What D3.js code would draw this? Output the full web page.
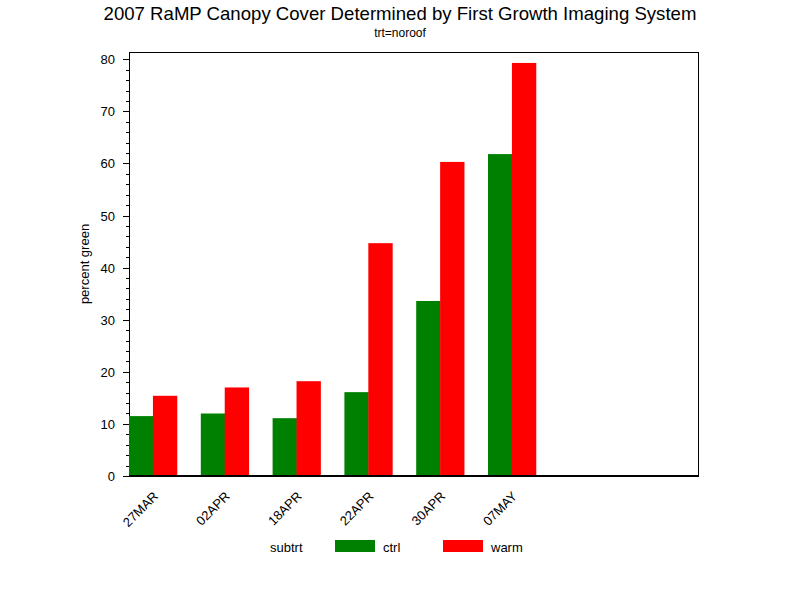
<!DOCTYPE html>
<html><head><meta charset="utf-8">
<script src="https://cdn.jsdelivr.net/npm/d3@7"></script>
<style>body{margin:0;background:#fff}svg text{font-family:"Liberation Sans",Arial,sans-serif;fill:#000}</style>
</head><body>
<script>
const categories = ["27MAR","02APR","18APR","22APR","30APR","07MAY"];
const ctrl = [11.5, 12.0, 11.1, 16.1, 33.6, 61.8];
const warm = [15.4, 17.0, 18.2, 44.7, 60.3, 79.3];
const seriesNames = ["ctrl","warm"];
const seriesColors = ["#008000","#ff0000"];
const yTicks = [0,10,20,30,40,50,60,70,80];

(function(){
const W=800,H=600;
const svg=d3.select("body").append("svg").attr("width",W).attr("height",H);
const pL=129,pR=698,pT=52,pB=476;

const y=d3.scaleLinear().domain([0,80]).range([pB,59.3]);
const step=71.8;
const x0=d3.scaleBand().domain(categories).range([pL,pL+5*step+step*2/3]).paddingInner(1/3).paddingOuter(0);
const x1=d3.scaleBand().domain(seriesNames).range([0,x0.bandwidth()]);

svg.append("rect").attr("x",pL+0.5).attr("y",pT+0.5).attr("width",pR-pL).attr("height",pB-pT)
  .attr("fill","none").attr("stroke","#000").attr("stroke-width",1);

const data=categories.map((c,i)=>({c,vals:[{s:"ctrl",v:ctrl[i]},{s:"warm",v:warm[i]}]}));
const g=svg.append("g");
data.forEach(d=>{
  d.vals.forEach((e,j)=>{
    g.append("rect").attr("x",x0(d.c)+x1(e.s)).attr("width",x1.bandwidth()+0.4)
     .attr("y",y(e.v)).attr("height",pB-y(e.v)).attr("fill",seriesColors[j]);
  });
});

const minor=d3.range(0,81,2);
const ya=svg.append("g");
minor.forEach(t=>{
  const major=t%10===0;
  ya.append("line").attr("x1",pL-(major?6:3)).attr("x2",pL).attr("y1",Math.round(y(t))+0.5).attr("y2",Math.round(y(t))+0.5).attr("stroke","#000");
});
yTicks.forEach(t=>{
  ya.append("text").attr("x",115).attr("y",y(t)+5).attr("text-anchor","end").attr("font-size",13).text(t);
});
svg.append("line").attr("x1",pL).attr("x2",pR+1).attr("y1",pB).attr("y2",pB).attr("stroke","#000").attr("stroke-width",2);

categories.forEach(c=>{
  const cx=x0(c)+x0.bandwidth()/2+6;
  svg.append("text").attr("transform",`translate(${cx},497) rotate(-45)`).attr("text-anchor","end").attr("font-size",13).text(c);
});

svg.append("text").attr("x",400).attr("y",20).attr("text-anchor","middle").attr("font-size",18.6).text("2007 RaMP Canopy Cover Determined by First Growth Imaging System");
svg.append("text").attr("x",400).attr("y",37).attr("text-anchor","middle").attr("font-size",12).text("trt=noroof");
svg.append("text").attr("transform","translate(89,264) rotate(-90)").attr("text-anchor","middle").attr("font-size",13).text("percent green");

svg.append("text").attr("x",270).attr("y",552).attr("font-size",13).text("subtrt");
const lx=[335,443];
seriesNames.forEach((s,i)=>{
  svg.append("rect").attr("x",lx[i]).attr("y",540).attr("width",40).attr("height",12).attr("fill",seriesColors[i]);
  svg.append("text").attr("x",lx[i]+48).attr("y",552).attr("font-size",13).text(s);
});
})();
</script>
</body></html>
